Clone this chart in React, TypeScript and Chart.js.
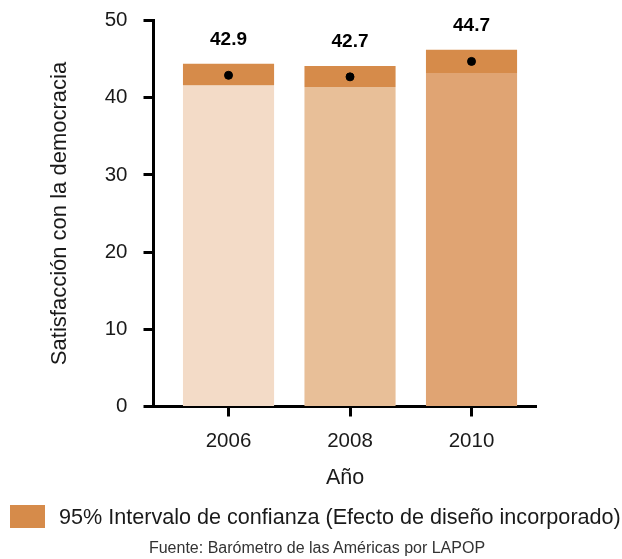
import React, { useEffect, useRef } from "react";
import { Chart, registerables } from "chart.js";

Chart.register(...registerables);

// ---- Data ----
const years = [2006, 2008, 2010];
const yearLabels = ["2006", "2008", "2010"];
const means = [42.9, 42.7, 44.7];
const ciLow = [41.6, 41.4, 43.2];
const ciHigh = [44.4, 44.1, 46.2];
const yTicks = [0, 10, 20, 30, 40, 50];

const barColors = ["#F3DBC7", "#E8BF98", "#E0A473"];
const ciColor = "#D68B4A";
const FONT = "'Liberation Sans', Arial, sans-serif";
const TEXT = "#1a1a1a";

const valueLabelPlugin = {
  id: "valueLabels",
  afterDatasetsDraw(chart: any) {
    const { ctx, scales } = chart;
    ctx.save();
    ctx.font = `bold 19px ${FONT}`;
    ctx.fillStyle = "#000";
    ctx.textAlign = "center";
    ctx.textBaseline = "middle";
    years.forEach((yr, i) => {
      const x = scales.x.getPixelForValue(yr);
      const y = scales.y.getPixelForValue(ciHigh[i]) - 24;
      ctx.fillText(means[i].toFixed(1), x, y);
    });
    ctx.restore();
  },
};

export default function App() {
  const canvasRef = useRef<HTMLCanvasElement | null>(null);

  useEffect(() => {
    if (!canvasRef.current) return;
    const chart = new Chart(canvasRef.current, {
      type: "bar",
      data: {
        datasets: [
          {
            type: "scatter",
            label: "Media",
            data: years.map((x, i) => ({ x, y: means[i] })),
            backgroundColor: "#000",
            borderColor: "#000",
            pointRadius: 4,
            pointHoverRadius: 4,
            order: 0,
          } as any,
          {
            type: "bar",
            label: "95% Intervalo de confianza (Efecto de diseño incorporado)",
            data: years.map((x, i) => ({ x, y: [ciLow[i], ciHigh[i]] })),
            backgroundColor: ciColor,
            grouped: false,
            categoryPercentage: 1,
            barPercentage: 0.75,
            borderWidth: 0,
            order: 1,
          } as any,
          {
            type: "bar",
            label: "Satisfacción",
            data: years.map((x, i) => ({ x, y: ciLow[i] })),
            backgroundColor: barColors,
            grouped: false,
            categoryPercentage: 1,
            barPercentage: 0.75,
            borderWidth: 0,
            order: 2,
          } as any,
        ],
      },
      options: {
        animation: false,
        responsive: false,
        layout: { padding: { left: 0, right: 85.3, top: 20.5, bottom: 67 } },
        plugins: {
          legend: { display: false },
          tooltip: { enabled: false },
        },
        scales: {
          x: {
            type: "linear",
            offset: false,
            min: 2004.765,
            max: 2011.073,
            afterBuildTicks: (scale: any) => {
              scale.ticks = years.map((v) => ({ value: v }));
            },
            afterFit: (scale: any) => {
              scale.height = 85.5;
              scale.paddingLeft = 0;
              scale.paddingRight = 0;
            },
            ticks: {
              callback: (v: any) => {
                const idx = years.indexOf(Number(v));
                return idx >= 0 ? yearLabels[idx] : "";
              },
              font: { family: FONT, size: 20.5 },
              color: TEXT,
              padding: 13,
              maxRotation: 0,
              autoSkip: false,
            },
            grid: {
              offset: false,
              drawOnChartArea: false,
              drawTicks: true,
              tickLength: 10,
              tickWidth: 3,
              tickColor: "#000",
            },
            border: { display: true, width: 3, color: "#000" },
            title: {
              display: true,
              text: "Año",
              font: { family: FONT, size: 21.5 },
              color: TEXT,
              padding: { top: 0, bottom: 1 },
            },
          } as any,
          y: {
            type: "linear",
            min: 0,
            max: 50,
            afterBuildTicks: (scale: any) => {
              scale.ticks = yTicks.map((v) => ({ value: v }));
            },
            afterFit: (scale: any) => {
              scale.width = 153.5;
              scale.paddingTop = 0;
              scale.paddingBottom = 0;
            },
            ticks: {
              font: { family: FONT, size: 20.5 },
              color: TEXT,
              padding: 16,
            },
            grid: {
              drawOnChartArea: false,
              drawTicks: true,
              tickLength: 10,
              tickWidth: 3,
              tickColor: "#000",
            },
            border: { display: true, width: 3, color: "#000" },
            title: {
              display: true,
              text: "Satisfacción con la democracia",
              font: { family: FONT, size: 22 },
              color: TEXT,
              padding: { top: 47, bottom: 0 },
            },
          } as any,
        },
      },
      plugins: [valueLabelPlugin],
    });
    return () => chart.destroy();
  }, []);

  return (
    <div
      style={{
        position: "absolute",
        left: 0,
        top: 0,
        width: 622,
        height: 559,
        background: "#fff",
        fontFamily: FONT,
      }}
    >
      <canvas
        ref={canvasRef}
        width={622}
        height={559}
        style={{ display: "block", width: 622, height: 559 }}
      />
      <div
        style={{
          position: "absolute",
          left: 10,
          top: 505,
          width: 35,
          height: 23,
          background: ciColor,
        }}
      />
      <div
        style={{
          position: "absolute",
          left: 59,
          top: 504,
          fontSize: 21.6,
          lineHeight: "26px",
          color: TEXT,
          whiteSpace: "nowrap",
        }}
      >
        95% Intervalo de confianza (Efecto de diseño incorporado)
      </div>
      <div
        style={{
          position: "absolute",
          left: 6,
          top: 538,
          width: 622,
          textAlign: "center",
          fontSize: 16,
          lineHeight: "20px",
          color: "#333",
          whiteSpace: "nowrap",
        }}
      >
        Fuente: Barómetro de las Américas por LAPOP
      </div>
    </div>
  );
}
